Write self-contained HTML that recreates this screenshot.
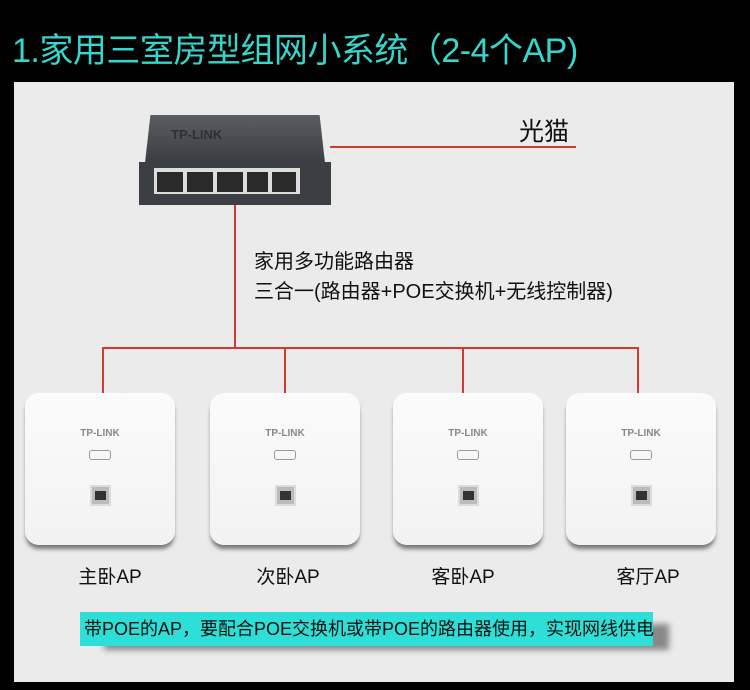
<!DOCTYPE html>
<html><head><meta charset="utf-8"><style>
*{margin:0;padding:0;box-sizing:border-box}
body{width:750px;height:690px;background:#000;position:relative;overflow:hidden;font-family:"Liberation Sans","Noto Sans CJK SC",sans-serif}
.abs{position:absolute}
.title{left:12px;top:23px;color:#35d6cc;font-size:34px;letter-spacing:-0.5px;white-space:nowrap}
.panel{left:14px;top:82px;width:720px;height:600px;background:#ecebeb}
.r{background:#d23b30}
.ap{width:150px;height:152px;top:393px;background:linear-gradient(#fbfbfb,#f2f2f2);border-radius:14px;box-shadow:0 5px 4px -1px #777}
.ap .b{position:absolute;top:35px;width:100%;text-align:center;font-size:10px;font-weight:bold;color:#888}
.ap .w{position:absolute;top:57px;left:64px;width:22px;height:10px;border:1px solid #999;border-radius:3px}
.ap .p{position:absolute;top:92px;left:65px;width:21px;height:21px;background:#bbb;border:2px solid #ddd}
.ap .p:after{content:"";position:absolute;left:3px;top:4px;width:11px;height:9px;background:#333}
.lab{top:562px;font-size:19px;color:#111;width:150px;text-align:center}
.sw{left:139px;top:115px;width:192px;height:90px}
</style></head><body>
<div class="abs title">1.家用三室房型组网小系统（2-4个AP)</div>
<div class="abs panel"></div>
<div class="abs sw">
 <div class="abs" style="left:6px;top:0;width:180px;height:48px;background:linear-gradient(#5a5d62,#3a3d42);clip-path:polygon(3% 0,97% 0,100% 100%,0 100%)"></div>
 <div class="abs" style="left:32px;top:12px;color:#2d3035;font-weight:bold;font-size:13px">TP-LINK</div>
 <div class="abs" style="left:0;top:47px;width:192px;height:43px;background:#3b3e43"></div>
 <div class="abs" style="left:15px;top:53px;width:120px;height:26px;background:#ddd"></div>
 <div class="abs" style="left:18px;top:57px;width:115px;height:20px;background:repeating-linear-gradient(90deg,#2a2a2a 0 26px,#ddd 26px 30px)"></div>
 <div class="abs" style="left:129px;top:53px;width:32px;height:26px;background:#ddd"></div>
 <div class="abs" style="left:133px;top:57px;width:24px;height:20px;background:#2a2a2a"></div>
</div>
<div class="abs r" style="left:330px;top:146px;width:246px;height:2px"></div>
<div class="abs" style="left:519px;top:112px;font-size:25px;color:#111">光猫</div>
<div class="abs r" style="left:234px;top:205px;width:2px;height:144px"></div>
<div class="abs" style="left:254px;top:247px;font-size:20px;color:#111;line-height:30px;white-space:nowrap">家用多功能路由器<br>三合一(路由器+POE交换机+无线控制器)</div>
<div class="abs r" style="left:102px;top:347px;width:537px;height:2px"></div>
<div class="abs r" style="left:102px;top:347px;width:2px;height:46px"></div>
<div class="abs r" style="left:284px;top:347px;width:2px;height:46px"></div>
<div class="abs r" style="left:462px;top:347px;width:2px;height:46px"></div>
<div class="abs r" style="left:637px;top:347px;width:2px;height:46px"></div>
<div class="abs ap" style="left:25px"><div class="b">TP-LINK</div><div class="w"></div><div class="p"></div></div>
<div class="abs ap" style="left:210px"><div class="b">TP-LINK</div><div class="w"></div><div class="p"></div></div>
<div class="abs ap" style="left:393px"><div class="b">TP-LINK</div><div class="w"></div><div class="p"></div></div>
<div class="abs ap" style="left:566px"><div class="b">TP-LINK</div><div class="w"></div><div class="p"></div></div>
<div class="abs lab" style="left:35px">主卧AP</div>
<div class="abs lab" style="left:213px">次卧AP</div>
<div class="abs lab" style="left:388px">客卧AP</div>
<div class="abs lab" style="left:573px">客厅AP</div>
<div class="abs" style="left:80px;top:612px;width:573px;height:34px;background:#2ddfd6;box-shadow:20px 8px 6px -4px #888;font-size:18px;color:#111;line-height:34px;padding-left:4px;white-space:nowrap">带POE的AP，要配合POE交换机或带POE的路由器使用，实现网线供电</div>
</body></html>
